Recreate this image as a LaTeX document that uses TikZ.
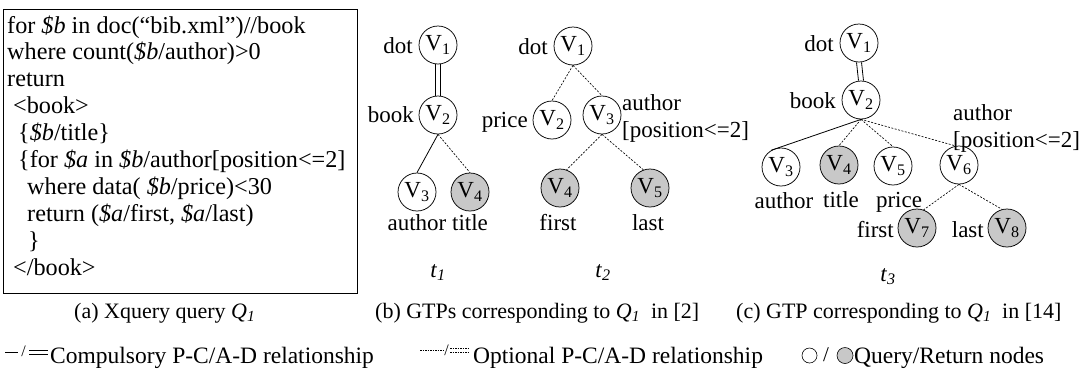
\documentclass[tikz,border=0pt]{standalone}
\usepackage{fontspec}
\setmainfont{Liberation Serif}
\definecolor{retgray}{RGB}{200,200,200}
\begin{document}
\begin{tikzpicture}[x=1pt,y=-1pt,
  vq/.style={circle,draw,line width=0.75pt,minimum size=38pt,inner sep=0pt,font=\fontsize{23}{27}\selectfont},
  vr/.style={vq,fill=retgray},
  lbl/.style={inner sep=0pt,font=\fontsize{23}{27}\selectfont},
  qtxt/.style={inner sep=0pt,anchor=base west,font=\fontsize{24.2}{27}\selectfont},
  captxt/.style={inner sep=0pt,font=\fontsize{22}{26}\selectfont},
  leg/.style={inner sep=0pt,anchor=base west,font=\fontsize{23.5}{27}\selectfont},
  slash/.style={inner sep=0pt,font=\fontsize{16}{18}\selectfont},
  comp/.style={draw,line width=0.8pt},
  opt/.style={draw,line width=0.65pt,dash pattern=on 2pt off 1.5pt},
  optfine/.style={draw,line width=0.6pt,dash pattern=on 1.5pt off 1pt}
]
\useasboundingbox (0,0) rectangle (1087,373);

% ---------- (a) query box ----------
\draw[line width=0.8pt] (3,9) rectangle (357,293);
\node[qtxt] (q1) at (7,33) {for \textit{\$b} in doc(“bib.xml”)//book};
\node[qtxt] (q2) at (7,59.9) {where count(\textit{\$b}/author)>0};
\node[qtxt] (q3) at (7,86.8) {return};
\node[qtxt] (q4) at (13,113.7) {<book>};
\node[qtxt] (q5) at (18,140.6) {\{\textit{\$b}/title\}};
\node[qtxt] (q6) at (18,167.5) {\{for \textit{\$a} in \textit{\$b}/author[position<=2]};
\node[qtxt] (q7) at (27,194.4) {where data( \textit{\$b}/price)<30};
\node[qtxt] (q8) at (27,221.3) {return (\textit{\$a}/first, \textit{\$a}/last)};
\node[qtxt] (q9) at (28,248.2) {\}};
\node[qtxt] (q10) at (13,275.1) {</book>};

% ---------- t1 ----------
\node[vq] (a1) at (438,45) {V\textsubscript{1}};
\node[vq] (a2) at (438,115) {V\textsubscript{2}};
\node[vq] (a3) at (417,192) {V\textsubscript{3}};
\node[vr] (a4) at (470,192) {V\textsubscript{4}};
\node[lbl,anchor=base east] (la1) at (413,53) {dot};
\node[lbl,anchor=base east] (la2) at (414,122) {book};
\node[lbl,anchor=base] (la3) at (417,230) {author};
\node[lbl,anchor=base] (la4) at (470,230) {title};
\node[lbl,anchor=base] (ta) at (438,277) {\textit{t}\textsubscript{\textit{1}}};
\draw[comp] ([xshift=-2.5pt]a1.south) -- ([xshift=-2.5pt]a2.north);
\draw[comp] ([xshift=2.5pt]a1.south) -- ([xshift=2.5pt]a2.north);
\draw[comp] (a2.south) -- (a3.north);
\draw[opt] (a2.south) -- (a4.north);

% ---------- t2 ----------
\node[vq] (b1) at (573,46) {V\textsubscript{1}};
\node[vq] (b2) at (552,120) {V\textsubscript{2}};
\node[vq] (b3) at (602,115) {V\textsubscript{3}};
\node[vr] (b4) at (560,188) {V\textsubscript{4}};
\node[vr] (b5) at (650,188) {V\textsubscript{5}};
\node[lbl,anchor=base east] (lb1) at (548,54) {dot};
\node[lbl,anchor=base east] (lb2) at (528,127) {price};
\node[lbl,anchor=base west] (lb3) at (622,110) {author};
\node[lbl,anchor=base west] (lb3b) at (622,137) {[position<=2]};
\node[lbl,anchor=base] (lb4) at (558,230) {first};
\node[lbl,anchor=base] (lb5) at (648,230) {last};
\node[lbl,anchor=base] (tb) at (603,277) {\textit{t}\textsubscript{\textit{2}}};
\draw[opt] (b1.south) -- (b2.north);
\draw[opt] (b1.south) -- (b3.north);
\draw[opt] (b3.south) -- (b4.70);
\draw[opt] (b3.south) -- (b5.110);

% ---------- t3 ----------
\node[vq] (c1) at (859,43) {V\textsubscript{1}};
\node[vq] (c2) at (861,100) {V\textsubscript{2}};
\node[vq] (c3) at (781,167) {V\textsubscript{3}};
\node[vr] (c4) at (839,165) {V\textsubscript{4}};
\node[vq] (c5) at (893,166) {V\textsubscript{5}};
\node[vq] (c6) at (959,165) {V\textsubscript{6}};
\node[vr] (c7) at (917,228) {V\textsubscript{7}};
\node[vr] (c8) at (1007,228) {V\textsubscript{8}};
\node[lbl,anchor=base east] (lc1) at (834,51) {dot};
\node[lbl,anchor=base east] (lc2) at (836,108) {book};
\node[lbl,anchor=base] (lc3) at (784,208) {author};
\node[lbl,anchor=base] (lc4) at (841,207) {title};
\node[lbl,anchor=base] (lc5) at (899,207) {price};
\node[lbl,anchor=base west] (lc6) at (953,120) {author};
\node[lbl,anchor=base west] (lc6b) at (953,147) {[position<=2]};
\node[lbl,anchor=base east] (lc7) at (894,237) {first};
\node[lbl,anchor=base east] (lc8) at (984,237) {last};
\node[lbl,anchor=base] (tc) at (888,281) {\textit{t}\textsubscript{\textit{3}}};
\draw[comp] ([xshift=-2.5pt]c1.south) -- ([xshift=-2.5pt]c2.north);
\draw[comp] ([xshift=2.5pt]c1.south) -- ([xshift=2.5pt]c2.north);
\draw[comp] (c2.south) -- (c3.120);
\draw[opt] (c2.south) -- (c4.north);
\draw[opt] (c2.south) -- (c5.north);
\draw[opt] (c2.south) -- (c6.100);
\draw[opt] (c6.south) -- (c7.70);
\draw[opt] (c6.south) -- (c8.105);

% ---------- captions ----------
\node[captxt,anchor=base west] (capa) at (74,318) {(a) Xquery query \textit{Q}\textsubscript{\textit{1}}};
\node[captxt,anchor=base west] (capb) at (375,318) {(b) GTPs corresponding to \textit{Q}\textsubscript{\textit{1}}\ \ in [2]};
\node[captxt,anchor=base west] (capc) at (736,318) {(c) GTP corresponding to \textit{Q}\textsubscript{\textit{1}}\ \ in [14]};

% ---------- legend ----------
\coordinate (s1a) at (5,352);
\coordinate (s1b) at (18,352);
\coordinate (s2a) at (29,350);
\coordinate (s2b) at (48,350);
\coordinate (s3a) at (29,354.5);
\coordinate (s3b) at (48,354.5);
\draw[comp] (s1a) -- (s1b);
\node[slash] (sl1) at (23.5,351) {/};
\draw[comp] (s2a) -- (s2b);
\draw[comp] (s3a) -- (s3b);
\node[leg] (lg1) at (50,363) {Compulsory P-C/A-D relationship};

\coordinate (o1a) at (420,350);
\coordinate (o1b) at (443,350);
\coordinate (o2a) at (450,348);
\coordinate (o2b) at (469,348);
\coordinate (o3a) at (450,352);
\coordinate (o3b) at (469,352);
\draw[optfine] (o1a) -- (o1b);
\node[slash] (sl2) at (446.5,350) {/};
\draw[optfine] (o2a) -- (o2b);
\draw[optfine] (o3a) -- (o3b);
\node[leg] (lg2) at (473,363) {Optional P-C/A-D relationship};

\node[circle,draw,line width=0.6pt,minimum size=15pt,inner sep=0pt] (lq) at (809.5,355.5) {};
\node[inner sep=0pt,font=\fontsize{21}{24}\selectfont] (sl3) at (826,355) {/};
\node[circle,draw,fill=retgray,line width=0.6pt,minimum size=16pt,inner sep=0pt] (lr) at (845,355.5) {};
\node[leg] (lg3) at (854,363) {Query/Return nodes};
\end{tikzpicture}
\end{document}
